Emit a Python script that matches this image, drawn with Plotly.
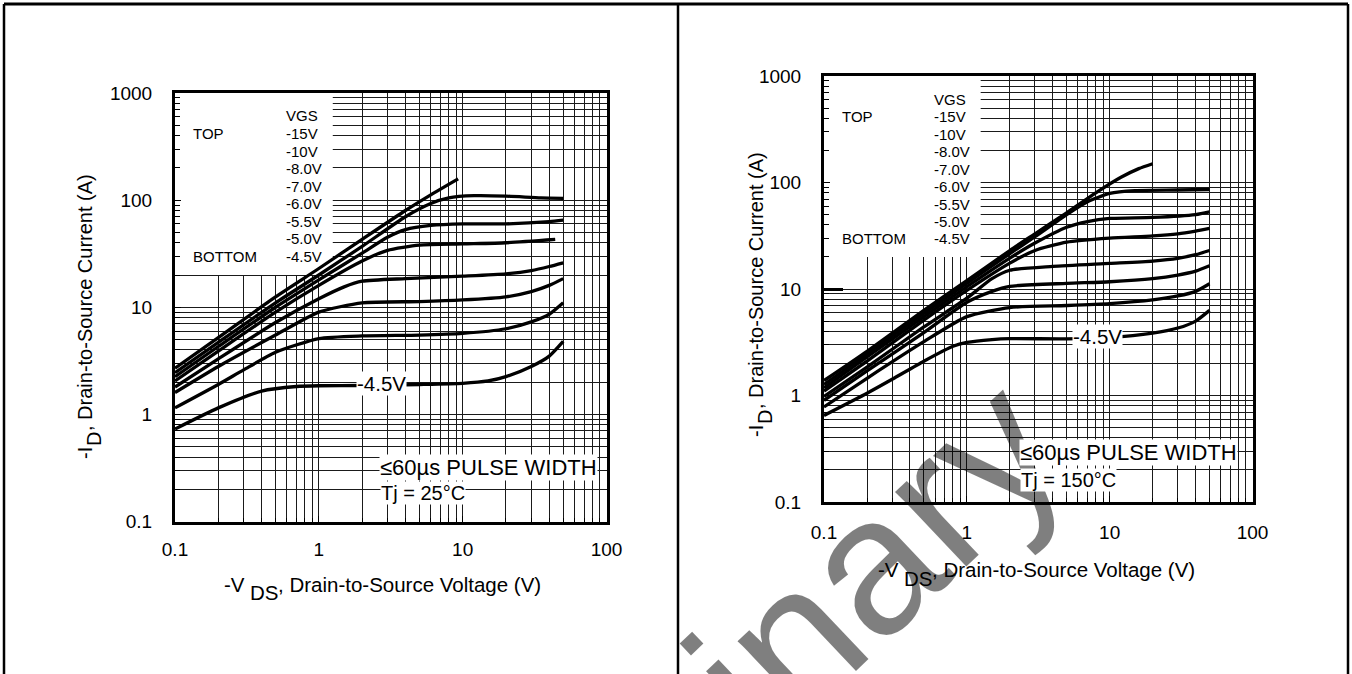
import math
import plotly.graph_objects as go

W, H = 1352, 674
FONT = "Liberation Sans, Arial, Helvetica, sans-serif"

# ---------------- data ----------------
vgs_labels = ["-15V", "-10V", "-8.0V", "-7.0V", "-6.0V", "-5.5V", "-5.0V", "-4.5V"]

# Tj = 25 C  (left chart)
v25_15 = [0.1, 0.2, 0.5, 1, 2, 4, 6, 9.3]
i25_15 = [2.7, 5.2, 12.5, 23, 43, 80, 112, 158]
v25_10 = [0.1, 0.2, 0.5, 1, 2, 4, 6, 8, 12, 20, 35, 50]
i25_10 = [2.45, 4.7, 11, 20, 37, 70, 93, 105, 110, 109, 105, 104]
v25_8 = [0.1, 0.2, 0.5, 1, 2, 3, 4, 6, 10, 20, 40, 50]
i25_8 = [2.25, 4.3, 10, 18, 32, 45, 53, 58, 60, 60, 63, 65]
v25_7 = [0.1, 0.2, 0.5, 1, 2, 3, 5, 10, 20, 44]
i25_7 = [2.05, 3.9, 9, 16, 27, 34, 38, 39, 40, 43]
v25_6 = [0.1, 0.2, 0.5, 1, 1.5, 2, 4, 10, 20, 30, 40, 50]
i25_6 = [1.8, 3.3, 7.2, 12, 15.5, 17.5, 18.5, 19.5, 20.5, 22, 24, 26]
v25_55 = [0.1, 0.2, 0.5, 1, 2, 5, 10, 20, 30, 40, 50]
i25_55 = [1.6, 2.8, 5.5, 9, 11, 11.3, 11.7, 12.5, 14, 16, 18.5]
v25_5 = [0.1, 0.2, 0.3, 0.5, 1, 2, 5, 10, 20, 30, 40, 50]
i25_5 = [1.15, 1.9, 2.6, 3.8, 5.1, 5.4, 5.5, 5.7, 6.3, 7.3, 8.6, 11]
v25_45 = [0.1, 0.2, 0.4, 0.7, 1, 2, 5, 10, 15, 20, 30, 40, 50]
i25_45 = [0.73, 1.15, 1.65, 1.82, 1.85, 1.86, 1.9, 1.95, 2.05, 2.25, 2.8, 3.5, 4.8]

# Tj = 150 C  (right chart)
v150_15 = [0.1, 0.2, 0.5, 1, 2, 3, 5, 8, 12, 16, 20]
i150_15 = [1.38, 2.6, 6.3, 12, 23, 33, 52, 80, 112, 135, 150]
v150_10 = [0.1, 0.2, 0.5, 1, 2, 3, 5, 7, 10, 15, 30, 50]
i150_10 = [1.27, 2.45, 5.9, 11.3, 21.5, 31, 50, 66, 79, 84, 85, 86]
v150_8 = [0.1, 0.2, 0.5, 1, 2, 3, 5, 7, 10, 20, 40, 50]
i150_8 = [1.18, 2.3, 5.5, 10.5, 19.5, 27, 38, 43, 46, 47, 50, 53]
v150_7 = [0.1, 0.2, 0.5, 1, 2, 3, 5, 10, 20, 30, 40, 50]
i150_7 = [1.1, 2.1, 5.1, 9.7, 17.5, 23, 27.5, 30, 31.5, 33, 35, 37]
v150_6 = [0.1, 0.2, 0.5, 1, 1.5, 2, 4, 10, 20, 30, 40, 50]
i150_6 = [0.98, 1.85, 4.4, 8.2, 12.5, 15, 16.3, 17.4, 18.3, 19.4, 21, 23]
v150_55 = [0.1, 0.2, 0.5, 1, 1.5, 2, 5, 10, 20, 30, 40, 50]
i150_55 = [0.9, 1.7, 3.9, 7.5, 9.5, 10.6, 11.3, 11.7, 12.5, 13.5, 14.7, 16.5]
v150_5 = [0.1, 0.2, 0.5, 1, 2, 5, 10, 20, 30, 40, 50]
i150_5 = [0.78, 1.45, 3.2, 5.5, 6.7, 7.0, 7.3, 7.9, 8.6, 9.5, 11.2]
v150_45 = [0.1, 0.2, 0.3, 0.5, 0.8, 1, 1.5, 2, 5, 10, 20, 30, 40, 50]
i150_45 = [0.65, 1.05, 1.42, 2.1, 2.9, 3.15, 3.35, 3.42, 3.4, 3.5, 3.85, 4.3, 5.0, 6.3]

x_tickvals = [0.1, 1, 10, 100]
x_ticktext = ["0.1", "1", "10", "100"]
y_tickvals = [0.1, 1, 10, 100, 1000]
y_ticktext = ["0.1", "1", "10", "100", "1000"]
x_minor = [m * d for d in (0.1, 1, 10) for m in range(2, 10)]
y_minor = [m * d for d in (0.1, 1, 10, 100) for m in range(2, 10)]

# legend panel area (no grid): V below 1.25 V, I above 20 A
legend_box_v = [0.1, 1.25, 1.25, 0.1, 0.1]
legend_box_i = [20, 20, 1000, 1000, 20]

left_curves = [(v25_15, i25_15), (v25_10, i25_10), (v25_8, i25_8), (v25_7, i25_7),
               (v25_6, i25_6), (v25_55, i25_55), (v25_5, i25_5), (v25_45, i25_45)]
right_curves = [(v150_15, i150_15), (v150_10, i150_10), (v150_8, i150_8), (v150_7, i150_7),
                (v150_6, i150_6), (v150_55, i150_55), (v150_5, i150_5), (v150_45, i150_45)]

# ---------------- figure ----------------
def px(x):
    return x / W


def py(y):
    return 1 - y / H


fig = go.Figure()
for xa, ya, curves in (("x", "y", left_curves), ("x2", "y2", right_curves)):
    fig.add_trace(go.Scatter(x=legend_box_v, y=legend_box_i, mode="lines", fill="toself",
                             fillcolor="white", line=dict(width=0, color="white"),
                             xaxis=xa, yaxis=ya, showlegend=False, hoverinfo="skip"))
    for k, (v, i) in enumerate(curves):
        fig.add_trace(go.Scatter(x=v, y=i, mode="lines", name=vgs_labels[k], xaxis=xa, yaxis=ya,
                                 line=dict(color="black", width=3.3, shape="spline", smoothing=0.6),
                                 showlegend=False, hoverinfo="skip"))

GRID = "#1a1a1a"


def xaxis(dom, anchor, standoff):
    return dict(type="log", range=[-1, 2], domain=dom, anchor=anchor,
                tickvals=x_tickvals, ticktext=x_ticktext,
                tickfont=dict(family=FONT, size=19, color="black"),
                ticks="inside", ticklen=6, tickcolor="black", tickwidth=1,
                showgrid=True, gridcolor=GRID, gridwidth=1,
                minor=dict(tickvals=x_minor, showgrid=True, gridcolor=GRID, gridwidth=1,
                           ticks="inside", ticklen=4, tickcolor="black"),
                showline=True, linecolor="black", linewidth=3, mirror=True,
                zeroline=False, automargin=False, ticklabelstandoff=standoff,
                fixedrange=True)


def yaxis(dom, anchor, standoff):
    return dict(type="log", range=[-1, 3], domain=dom, anchor=anchor,
                tickvals=y_tickvals, ticktext=y_ticktext,
                tickfont=dict(family=FONT, size=19, color="black"),
                ticks="inside", ticklen=6, tickcolor="black", tickwidth=1,
                showgrid=True, gridcolor=GRID, gridwidth=1,
                minor=dict(tickvals=y_minor, showgrid=True, gridcolor=GRID, gridwidth=1,
                           ticks="inside", ticklen=5, tickcolor="black"),
                showline=True, linecolor="black", linewidth=3, mirror=True,
                zeroline=False, automargin=False, ticklabelstandoff=standoff,
                fixedrange=True)


shapes = []
# thick stub at 10 A on right chart
shapes.append(dict(type="line", xref="paper", yref="paper", x0=px(824), x1=px(843),
                   y0=py(289.5), y1=py(289.5), line=dict(color="black", width=3)))
# page frame
for x0, y0, x1, y1, w in ((4, 4, 1348, 4, 3), (4, 4, 4, 674, 2.5), (1348, 4, 1348, 674, 2.5),
                          (678, 4, 678, 674, 2.5)):
    shapes.append(dict(type="line", xref="paper", yref="paper", x0=px(x0), y0=py(y0),
                       x1=px(x1), y1=py(y1), line=dict(color="black", width=w)))

ann = []
# watermark (drawn first, behind text boxes)
ann.append(dict(text="Preliminary", xref="paper", yref="paper", x=px(674), y=py(750),
                showarrow=False, textangle=-43.5, xanchor="center", yanchor="middle",
                font=dict(family=FONT, size=195, color="rgba(0,0,0,0.5)")))


def txt(s, x, y, size, xanchor="left", yanchor="middle", bg=None, angle=0):
    d = dict(text=s, xref="paper", yref="paper", x=px(x), y=py(y), showarrow=False,
             xanchor=xanchor, yanchor=yanchor, borderpad=0, textangle=angle,
             font=dict(family=FONT, size=size, color="black"))
    if bg:
        d["bgcolor"] = bg
    return d


# legend blocks
for (vx, tx, y0) in ((285, 192, 116), (933, 841, 99)):
    ann.append(txt("VGS", vx, y0, 15))
    step = 17.5
    for k, lab in enumerate(vgs_labels):
        ann.append(txt(lab, vx, y0 + step * (k + 1), 15))
    ann.append(txt("TOP", tx, y0 + step, 15))
    ann.append(txt("BOTTOM", tx, y0 + step * 8, 15))

# pulse-width notes
ann.append(txt("\u226460\u00b5s PULSE WIDTH", 379, 467, 22, bg="white"))
ann.append(txt("Tj = 25\u00b0C", 380, 493, 20, bg="white"))
ann.append(txt("\u226460\u00b5s PULSE WIDTH", 1019, 453, 22, bg="white"))
ann.append(txt("Tj = 150\u00b0C", 1020, 480, 20, bg="white"))

# curve labels
ann.append(dict(text="-4.5V", xref="x", yref="y", x=math.log10(2.72), y=math.log10(1.96),
                showarrow=False, bgcolor="white", borderpad=0,
                font=dict(family=FONT, size=20.5, color="black")))
ann.append(dict(text="-4.5V", xref="x2", yref="y2", x=math.log10(8.2), y=math.log10(3.58),
                showarrow=False, bgcolor="white", borderpad=0,
                font=dict(family=FONT, size=20.5, color="black")))

# x-axis titles
for (xv, yv, sub_dy) in ((246, 584, 8), (900, 569, 9)):
    ann.append(txt("-V", xv, yv, 20.5, xanchor="right"))
    ann.append(txt("DS", xv + 3, yv + sub_dy, 20.5))
    ann.append(txt(", Drain-to-Source Voltage (V)", xv + 31, yv, 20.5))

# y-axis titles (rotated)
for (xc, yb) in ((85, 460), (756, 438)):
    ann.append(txt("-I", xc, yb, 20, xanchor="center", yanchor="bottom", angle=-90))
    ann.append(txt("D", xc + 9, yb - 13, 20, xanchor="center", yanchor="bottom", angle=-90))
    ann.append(txt(", Drain-to-Source Current (A)", xc, yb - 27.5, 20, xanchor="center",
                   yanchor="bottom", angle=-90))

fig.update_layout(
    width=W, height=H,
    margin=dict(l=0, r=0, t=0, b=0, pad=0),
    paper_bgcolor="white", plot_bgcolor="white",
    template="none",
    showlegend=False,
    font=dict(family=FONT, color="black"),
    xaxis=xaxis([px(175), px(606.5)], "y", 9),
    yaxis=yaxis([py(521.5), py(93)], "x", 16),
    xaxis2=xaxis([px(824), px(1252.5)], "y2", 11),
    yaxis2=yaxis([py(502), py(76)], "x2", 16),
    shapes=shapes,
    annotations=ann,
)

fig.write_html("out.html", config={"displayModeBar": False, "staticPlot": True})
